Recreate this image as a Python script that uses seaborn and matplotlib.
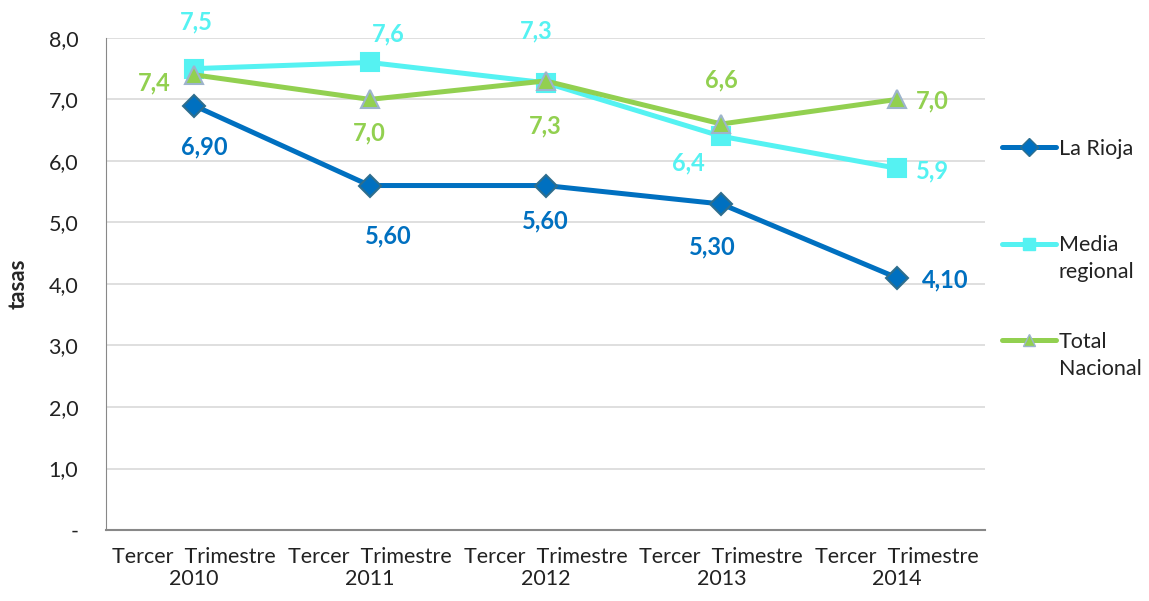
import matplotlib
matplotlib.use("Agg")
import matplotlib.pyplot as plt
import seaborn as sns
import pandas as pd
from matplotlib.lines import Line2D
from matplotlib.transforms import IdentityTransform

years = ["2010", "2011", "2012", "2013", "2014"]
tick_labels = ["Tercer  Trimestre\n" + y for y in years]
la_rioja = [6.90, 5.60, 5.60, 5.30, 4.10]
media_regional = [7.5, 7.6, 7.27, 6.4, 5.88]
total_nacional = [7.4, 7.0, 7.3, 6.6, 7.0]
series_names = ["La Rioja", "Media regional", "Total Nacional"]
legend_first = ["La Rioja", "Media", "Total"]
legend_second = ["", "regional", "Nacional"]

colors = {"La Rioja": "#0070C0", "Media regional": "#55F2F2", "Total Nacional": "#92D050"}
markers = {"La Rioja": "D", "Media regional": "s", "Total Nacional": "^"}
edges = {"La Rioja": "#2E6E8E", "Media regional": "#55F2F2", "Total Nacional": "#9DB4CC"}
msize = {"La Rioja": 11, "Media regional": 13, "Total Nacional": 13}

rows = []
for name, vals in zip(series_names, [la_rioja, media_regional, total_nacional]):
    for i, v in enumerate(vals):
        rows.append({"x": i, "valor": v, "serie": name})
df = pd.DataFrame(rows)

sns.set_style("white")
plt.rcParams["font.family"] = ["Lato", "DejaVu Sans"]

fig = plt.figure(figsize=(11.49, 6.01), dpi=100)
ax = fig.add_axes([0.0923, 0.118, 0.765, 0.819])

for name in series_names:
    sub = df[df["serie"] == name]
    sns.lineplot(data=sub, x="x", y="valor", ax=ax, color=colors[name], lw=3.6,
                 marker=markers[name], markersize=msize[name],
                 markeredgecolor=edges[name], markeredgewidth=1.5, legend=False, zorder=3)

# Data label offsets in pixels: (dx, dy up-positive, ha)
lab_rioja = [(10, -41, "center"), (19, -50, "center"), (0, -35, "center"), (-9, -43, "center"), (25, -2, "left")]
lab_media = [(2, 47, "center"), (19, 29, "center"), (-9, 52, "center"), (-17, -27, "right"), (19, -3, "left")]
lab_total = [(-23, -8, "right"), (0, -34, "center"), (0, -45, "center"), (0, 44, "center"), (19, -2, "left")]

def fmt(v, d):
    return (f"{v:.{d}f}").replace(".", ",")

for vals, labs, name, d in [(la_rioja, lab_rioja, "La Rioja", 2),
                             (media_regional, lab_media, "Media regional", 1),
                             (total_nacional, lab_total, "Total Nacional", 1)]:
    for i, (v, (ox, oy, ha)) in enumerate(zip(vals, labs)):
        ax.annotate(fmt(v, d), (i, v), xytext=(ox * 0.72, oy * 0.72), textcoords="offset points",
                    ha=ha, va="center", fontsize=17, fontweight="bold", color=colors[name],
                    annotation_clip=False)

ax.set_xlim(-0.5, 4.5)
ax.set_ylim(0, 8)
ax.set_yticks([0, 1, 2, 3, 4, 5, 6, 7, 8])
ax.set_yticklabels(["-", "1,0", "2,0", "3,0", "4,0", "5,0", "6,0", "7,0", "8,0"])
ax.set_xticks(range(5))
ax.set_xticklabels(tick_labels, linespacing=1.15)
ax.tick_params(axis="both", labelsize=15.5, colors="#222222", length=0)
ax.tick_params(axis="y", pad=20)
ax.tick_params(axis="x", pad=12)
ax.set_xlabel("")
ax.set_ylabel("tasas", fontsize=16, fontweight="bold", labelpad=14)
ax.yaxis.grid(True, color="#D9D9D9", lw=1.2)
ax.xaxis.grid(False)
for s in ["top", "right"]:
    ax.spines[s].set_visible(False)
ax.spines["left"].set_color("#888888")
ax.spines["bottom"].set_color("#888888")
ax.spines["bottom"].set_linewidth(1.5)

handles = [Line2D([0], [0], color=colors[n], lw=3.6, marker=markers[n], markersize=9,
                  markeredgecolor=edges[n]) for n in series_names]
leg = fig.legend(handles, legend_first, loc="upper left", bbox_to_anchor=(0.872, 0.769),
                 frameon=False, fontsize=15.5, labelspacing=3.55, handlelength=2.5,
                 handletextpad=0.15, borderaxespad=0, borderpad=0, labelcolor="#222222")

fig.canvas.draw()
renderer = fig.canvas.get_renderer()
for txt, second in zip(leg.get_texts(), legend_second):
    if not second:
        continue
    bb = txt.get_window_extent(renderer)
    fig.text(bb.x0, (bb.y0 + bb.y1) / 2 - 27, second, transform=IdentityTransform(),
             ha="left", va="center", fontsize=15.5, color="#222222")

fig.savefig("out.png", dpi=100)
